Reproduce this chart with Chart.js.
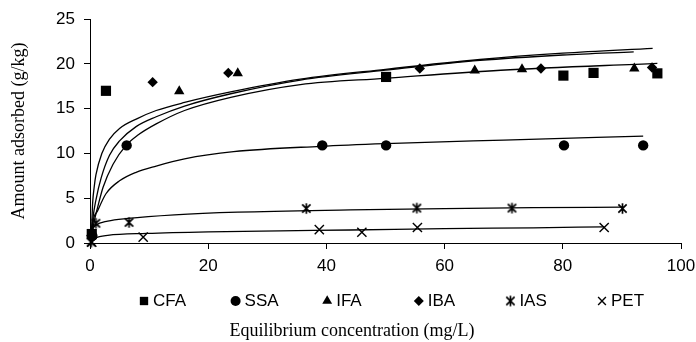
<!DOCTYPE html>
<html>
<head>
<meta charset="utf-8">
<script src="https://cdn.jsdelivr.net/npm/chart.js@4.4.1/dist/chart.umd.min.js"></script>
<style>
  html, body { margin: 0; padding: 0; background: #fff; }
  #wrap { width: 696px; height: 342px; }
</style>
</head>
<body>
<div id="wrap"><canvas id="chart"></canvas></div>
<script>
// axis titles + series names
const xTitle = 'Equilibrium concentration (mg/L)';
const yTitle = 'Amount adsorbed (g/kg)';
const seriesNames = ['CFA', 'SSA', 'IFA', 'IBA', 'IAS', 'PET'];

const cfaX = [0.3, 2.7, 50.1, 80.1, 85.2, 96.0];
const cfaY = [1.0, 17.0, 18.55, 18.7, 19.0, 18.95];
const ssaX = [0.4, 6.2, 39.3, 50.1, 80.2, 93.6];
const ssaY = [0.8, 10.9, 10.9, 10.9, 10.9, 10.9];
const ifaX = [0.2, 15.1, 25.0, 65.1, 73.1, 92.1];
const ifaY = [1.1, 16.95, 18.96, 19.26, 19.4, 19.5];
const ibaX = [0.3, 10.6, 23.4, 55.8, 76.3, 95.1];
const ibaY = [0.8, 17.97, 19.0, 19.5, 19.5, 19.6];
const iasX = [0.2, 1.0, 6.6, 36.6, 55.3, 71.4, 90.1];
const iasY = [0.1, 2.2, 2.3, 3.85, 3.9, 3.9, 3.85];
const petX = [0.3, 9.0, 38.8, 46.0, 55.4, 87.0];
const petY = [0.1, 0.65, 1.5, 1.2, 1.73, 1.73];

// trend curves
const fitIbaX = [0.25, 0.45, 0.7, 1, 2, 3.3, 5, 8, 11.2, 16, 24, 35.6, 50, 66, 80, 95.2];
const fitIbaY = [1.2, 4.5, 6.2, 7.6, 10.0, 11.6, 12.8, 13.9, 14.8, 15.7, 16.9, 18.3, 19.4, 20.5, 21.2, 21.75];
const fitIfaX = [0.25, 0.5, 1, 1.9, 3.3, 5, 7.8, 11.2, 16, 24, 35.6, 50, 66, 80, 92];
const fitIfaY = [1.0, 2.8, 4.8, 7.3, 9.8, 11.4, 13.0, 14.1, 15.3, 16.7, 18.2, 19.3, 20.4, 21.0, 21.35];
const fitCfaX = [0.3, 0.7, 1.3, 2.2, 3.9, 6.1, 8, 11.2, 16, 24, 35.6, 50, 69.5, 96];
const fitCfaY = [0.9, 2.4, 4.0, 6.2, 8.8, 10.9, 12.0, 13.3, 14.8, 16.3, 17.7, 18.4, 19.3, 20.07];
const fitSsaX = [0.3, 0.45, 1.3, 2.7, 5, 7.8, 11.2, 16, 24.3, 39, 50, 70, 93.6];
const fitSsaY = [1.0, 2.2, 3.6, 5.5, 6.95, 7.9, 8.6, 9.4, 10.2, 10.8, 11.1, 11.5, 11.94];
const fitIasX = [0.2, 0.5, 1.0, 3, 6.4, 14.3, 25, 44, 60, 75, 90.1];
const fitIasY = [0.9, 1.6, 2.0, 2.45, 2.75, 3.15, 3.45, 3.7, 3.85, 3.95, 4.0];
const fitPetX = [0.3, 0.85, 3, 9.6, 20, 32.2, 44, 60, 75, 87];
const fitPetY = [0.3, 0.55, 0.85, 1.07, 1.25, 1.36, 1.45, 1.6, 1.7, 1.8];

const SANS = "'Liberation Sans', Arial, sans-serif";
const SERIF = "'Liberation Serif', 'Times New Roman', serif";

const pts = (xs, ys) => xs.map((x, i) => ({ x, y: ys[i] }));

// excel-like star: an X plus a vertical bar
function starMarker(r) {
  const s = Math.ceil(2 * r + 4);
  const c = document.createElement('canvas');
  c.width = c.height = s;
  const g = c.getContext('2d');
  const m = s / 2, d = r * 0.8;
  g.strokeStyle = '#000';
  g.lineWidth = 1.7;
  g.beginPath();
  g.moveTo(m - d, m - d); g.lineTo(m + d, m + d);
  g.moveTo(m + d, m - d); g.lineTo(m - d, m + d);
  g.moveTo(m, m - r); g.lineTo(m, m + r);
  g.stroke();
  return c;
}

function markerDS(label, xs, ys, style, radius, bw) {
  return {
    label, data: pts(xs, ys),
    pointStyle: style, pointRadius: radius, pointHoverRadius: radius,
    backgroundColor: '#000', borderColor: '#000', borderWidth: bw || 0,
    clip: false
  };
}

function fitDS(xs, ys) {
  return {
    type: 'line', label: 'fit', data: pts(xs, ys),
    borderColor: '#000', borderWidth: 1.3, pointRadius: 0,
    cubicInterpolationMode: 'monotone', fill: false, clip: false
  };
}

// one-row legend between the x ticks and the x title (excel style, equal slots)
const LEGEND_Y = 301, LEGEND_X0 = 144, LEGEND_STEP = 91.6;
const legendRadius = [5.9, 5, 5.7, 5, 5, 5.5];
const legendRow = {
  id: 'legendRow',
  afterDraw(chart) {
    const ctx = chart.ctx;
    ctx.save();
    ctx.font = '17px ' + SANS;
    ctx.textBaseline = 'middle';
    ctx.textAlign = 'left';
    seriesNames.forEach((name, i) => {
      const ds = chart.data.datasets[i];
      const x = LEGEND_X0 + i * LEGEND_STEP;
      ctx.fillStyle = '#000';
      ctx.strokeStyle = '#000';
      ctx.lineWidth = ds.borderWidth || 1;
      Chart.helpers.drawPoint(ctx, {
        pointStyle: ds.pointStyle, radius: legendRadius[i],
        borderWidth: ds.borderWidth || 0, rotation: 0
      }, x, LEGEND_Y);
      ctx.fillText(name, x + 9, LEGEND_Y);
    });
    ctx.restore();
  }
};

new Chart(document.getElementById('chart'), {
  type: 'scatter',
  data: {
    datasets: [
      markerDS(seriesNames[0], cfaX, cfaY, 'rect', 7.2),
      markerDS(seriesNames[1], ssaX, ssaY, 'circle', 5.2),
      markerDS(seriesNames[2], ifaX, ifaY, 'triangle', 6),
      markerDS(seriesNames[3], ibaX, ibaY, 'rectRot', 5.2),
      markerDS(seriesNames[4], iasX, iasY, starMarker(5.2), 5),
      markerDS(seriesNames[5], petX, petY, 'crossRot', 6.5, 1.4),
      fitDS(fitIbaX, fitIbaY),
      fitDS(fitIfaX, fitIfaY),
      fitDS(fitCfaX, fitCfaY),
      fitDS(fitSsaX, fitSsaY),
      fitDS(fitIasX, fitIasY),
      fitDS(fitPetX, fitPetY)
    ]
  },
  plugins: [legendRow],
  options: {
    responsive: true,
    maintainAspectRatio: false,
    animation: false,
    layout: { padding: { left: 8, top: 16, right: 0, bottom: 0 } },
    plugins: {
      tooltip: { enabled: false },
      legend: { display: false },
      title: {
        display: true, position: 'bottom', text: xTitle, color: '#000',
        font: { family: SERIF, size: 18, weight: 'normal' },
        padding: { top: 37, bottom: 0 }
      }
    },
    scales: {
      x: {
        type: 'linear', min: 0, max: 100,
        afterFit: (s) => { s.paddingRight = 15; },
        ticks: { stepSize: 20, color: '#000', padding: 7, font: { family: SANS, size: 17 } },
        grid: { drawOnChartArea: false, drawTicks: true, tickLength: 6, color: '#000' },
        border: { color: '#000', width: 1 }
      },
      y: {
        min: 0, max: 25,
        afterFit: (s) => { s.width = 82; },
        ticks: { stepSize: 5, color: '#000', padding: 9, font: { family: SANS, size: 17 } },
        grid: { drawOnChartArea: false, drawTicks: true, tickLength: 6, color: '#000' },
        border: { color: '#000', width: 1 },
        title: {
          display: true, text: yTitle, color: '#000',
          font: { family: SERIF, size: 18 }, padding: { top: 0, bottom: 0 }
        }
      }
    }
  }
});
</script>
</body>
</html>
